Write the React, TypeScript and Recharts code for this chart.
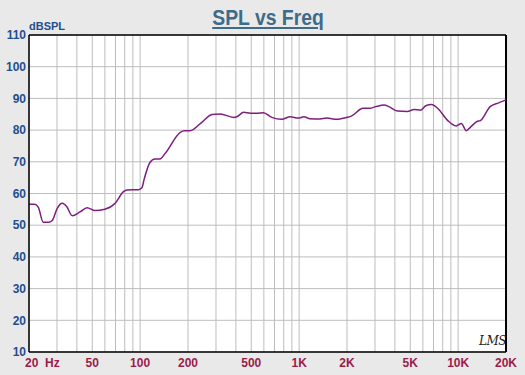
import { LineChart, Line, XAxis, YAxis, CartesianGrid, ReferenceLine } from 'recharts';

const freqs = [
  20, 21.8, 22.9, 24.6, 26.5, 28, 30.1, 32.4, 34.6, 37.4, 41.9, 46.4, 52, 60,
  69.6, 78.6, 82.8, 97.6, 102.6, 106, 115, 124, 133, 144, 179, 190, 206, 240,
  283, 319, 387, 406, 448, 494, 543, 596, 673, 778, 877, 988, 1071, 1170, 1352,
  1490, 1723, 1995, 2144, 2521, 2777, 3030, 3420, 3670, 4145, 4794, 5280, 5820,
  6263, 6800, 7430, 8605, 9730, 10470, 11270, 11880, 13130, 13800, 15890,
  17950, 20000,
];

const spl = [
  56.6, 56.6, 55.6, 50.9, 50.9, 51.5, 55.3, 56.9, 55.8, 53.0, 54.2, 55.5, 54.6,
  55.0, 56.9, 60.6, 61.1, 61.2, 61.8, 64.5, 69.7, 70.9, 70.9, 72.7, 79.3, 79.8,
  79.8, 82.1, 84.9, 85.1, 84.0, 84.2, 85.6, 85.3, 85.3, 85.5, 84.0, 83.4, 84.2,
  83.8, 84.2, 83.6, 83.5, 83.8, 83.4, 84.0, 84.5, 86.9, 86.9, 87.4, 87.9, 87.4,
  86.0, 85.9, 86.5, 86.3, 87.7, 88.1, 86.9, 83.0, 81.3, 82.1, 79.8, 80.8, 82.7,
  83.0, 87.4, 88.6, 89.5,
];

const gridFreqs = [
  20, 30, 40, 50, 60, 70, 80, 90, 100, 200, 300, 400, 500, 600, 700, 800, 900,
  1000, 2000, 3000, 4000, 5000, 6000, 7000, 8000, 9000, 10000, 20000,
];

const xLabels: Record<number, string> = {
  20: '20  Hz',
  50: '50',
  100: '100',
  200: '200',
  500: '500',
  1000: '1K',
  2000: '2K',
  5000: '5K',
  10000: '10K',
  20000: '20K',
};

const yTicks = [10, 20, 30, 40, 50, 60, 70, 80, 90, 100, 110];

const data = freqs.map((f, i) => ({ f, spl: spl[i] }));

const FreqTick = (props: any) => {
  const { x, y, payload } = props;
  const label = xLabels[payload.value];
  if (!label) return <g />;
  const first = payload.value === 20;
  return (
    <text
      x={first ? x - 4 : x}
      y={y}
      dy="0.71em"
      textAnchor={first ? 'start' : 'middle'}
      fill="#9a1c4c"
      fontSize={12}
      fontWeight="bold"
      style={{ whiteSpace: 'pre' }}
    >
      {label}
    </text>
  );
};

export default function App() {
  return (
    <div
      style={{
        position: 'absolute',
        left: 0,
        top: 0,
        width: 525,
        height: 375,
        background: '#e9e9e9',
        fontFamily: '"Liberation Sans", Arial, sans-serif',
      }}
    >
      <div
        style={{
          position: 'absolute',
          left: 268,
          top: 5,
          transform: 'translateX(-50%) scaleX(0.88)',
          whiteSpace: 'nowrap',
          fontSize: 22,
          fontWeight: 'bold',
          color: '#3d6b88',
          textDecoration: 'underline',
        }}
      >
        SPL vs Freq
      </div>
      <div
        style={{
          position: 'absolute',
          left: 29,
          top: 20,
          fontSize: 11,
          fontWeight: 'bold',
          color: '#1f4e8c',
        }}
      >
        dBSPL
      </div>
      <LineChart
        width={525}
        height={375}
        data={data}
        margin={{ top: 35, right: 19, bottom: 3, left: 5 }}
      >
        <CartesianGrid stroke="#bdbdbd" strokeWidth={1} fill="#ffffff" fillOpacity={1} />
        <XAxis
          dataKey="f"
          type="number"
          scale="log"
          domain={[20, 20000]}
          ticks={gridFreqs}
          interval={0}
          tick={<FreqTick />}
          tickLine={false}
          tickSize={0}
          tickMargin={6}
          height={20}
          axisLine={{ stroke: '#000', strokeWidth: 1.5 }}
          allowDataOverflow
        />
        <YAxis
          type="number"
          domain={[10, 110]}
          ticks={yTicks}
          interval={0}
          width={24}
          tickLine={false}
          tickSize={0}
          tickMargin={3}
          tick={{ fill: '#1f4e8c', fontSize: 12, fontWeight: 'bold' }}
          axisLine={{ stroke: '#000', strokeWidth: 1.5 }}
        />
        <ReferenceLine y={110} stroke="#000" strokeWidth={1.5} />
        <ReferenceLine x={20000} stroke="#000" strokeWidth={2} />
        <Line
          type="monotone"
          dataKey="spl"
          stroke="#7d1f7f"
          strokeWidth={1.5}
          dot={false}
          isAnimationActive={false}
        />
      </LineChart>
      <div
        style={{
          position: 'absolute',
          left: 479,
          top: 334,
          fontSize: 12,
          fontStyle: 'italic',
          fontFamily: '"DejaVu Serif", serif',
          color: '#222',
          letterSpacing: -0.5,
        }}
      >
        LMS
      </div>
    </div>
  );
}
